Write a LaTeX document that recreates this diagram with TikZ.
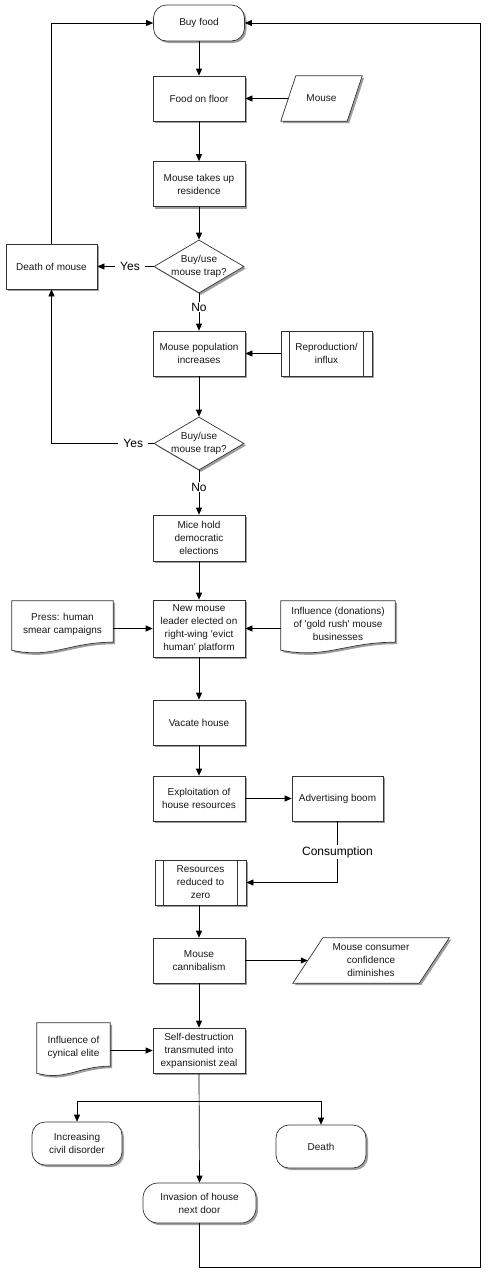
\documentclass[tikz,border=0pt]{standalone}
\usepackage{fontspec}
\setmainfont{Liberation Sans}[Ligatures=TeXOff]
\usetikzlibrary{shapes.geometric,arrows.meta,shadows,backgrounds}
\begin{document}
\begin{tikzpicture}[x=1pt,y=-1pt,
  shadowed/.style={drop shadow={shadow xshift=2pt,shadow yshift=-2pt,fill=black,opacity=0.38}},
  txt/.style={align=center,font=\fontsize{10}{13}\selectfont,text=black!90},
  base/.style={txt,draw=black!80,line width=0.7pt,fill=white,inner sep=1pt,shadowed},
  proc/.style={base,rectangle,minimum width=92pt,minimum height=45pt},
  term/.style={base,rectangle,rounded corners=13pt,minimum width=91pt,minimum height=36pt},
  dec/.style={base,diamond,minimum width=90pt,minimum height=53pt,inner sep=0pt},
  ghost/.style={txt,rectangle,inner sep=1pt},
  shapeline/.style={draw=black!80,line width=0.7pt,fill=white,shadowed},
  inner/.style={draw=black!80,line width=0.7pt},
  arr/.style={draw=black,line width=0.7pt,-{Triangle[length=7pt,width=6pt]}},
  lbl/.style={fill=white,font=\fontsize{12}{14}\selectfont,inner xsep=5pt,inner ysep=1pt,text=black}
]
\useasboundingbox (0,0) rectangle (489,1277);

% nodes
\node[term] (buy) at (199,23) {Buy food};
\node[proc] (food) at (199,98.5) {Food on floor};
\node[ghost,minimum width=81pt,minimum height=45pt] (mouse) at (321.5,98.5) {Mouse};
\node[proc] (resid) at (199,184) {Mouse takes up\\residence};
\node[dec,label={[txt]center:Buy/use\\mouse trap?}] (d1) at (199,266.5) {};
\node[proc,minimum width=91pt] (dm) at (51.5,266.5) {Death of mouse};
\node[proc] (pop) at (199,353.5) {Mouse population\\increases};
\node[proc,minimum width=91pt] (repro) at (326.5,353.5) {Reproduction/\\influx};
\node[dec,label={[txt]center:Buy/use\\mouse trap?}] (d2) at (199,443.5) {};
\node[proc,minimum height=46pt] (mice) at (199,538) {Mice hold\\democratic\\elections};
\node[proc,minimum height=57pt] (leader) at (199,628.5) {New mouse\\leader elected on\\right-wing 'evict\\human' platform};
\node[ghost,minimum width=101pt,minimum height=46pt] (press) at (62.5,624) {Press: human\\smear campaigns};
\node[ghost,minimum width=114pt,minimum height=46pt] (infl) at (338,624) {Influence (donations)\\of 'gold rush' mouse\\businesses};
\node[proc] (vac) at (199,722.5) {Vacate house};
\node[proc] (expl) at (199,798.5) {Exploitation of\\house resources};
\node[proc,minimum width=91pt] (adv) at (337.5,798.5) {Advertising boom};
\node[proc,minimum width=91pt] (zero) at (200.5,882.5) {Resources\\reduced to\\zero};
\node[proc] (cann) at (199,960.5) {Mouse\\cannibalism};
\node[ghost,minimum width=156pt,minimum height=45pt] (conf) at (371,960.5) {Mouse consumer\\confidence\\diminishes};
\node[proc] (self) at (199,1050.5) {Self-destruction\\transmuted into\\expansionist zeal};
\node[ghost,minimum width=73pt,minimum height=48pt] (elite) at (73.5,1047) {Influence of\\cynical elite};
\node[term,minimum width=90pt,minimum height=43pt] (civ) at (77,1143.5) {Increasing\\civil disorder};
\node[term,minimum width=90pt,minimum height=43pt] (dth) at (321,1146.5) {Death};
\node[term,minimum width=113pt,minimum height=40pt,rounded corners=15pt] (inv) at (199.5,1203) {Invasion of house\\next door};

% custom outlines behind their texts
\begin{scope}[on background layer]
\draw[shapeline] (mouse.south west) -- ([xshift=15pt]mouse.north west) -- (mouse.north east) -- ([xshift=-15pt]mouse.south east) -- cycle;
\draw[shapeline] (conf.south west) -- ([xshift=30pt]conf.north west) -- (conf.north east) -- ([xshift=-30pt]conf.south east) -- cycle;
\draw[shapeline] (press.north west) -- (press.north east) -- ([yshift=5pt]press.south east)
  .. controls ([xshift=-45pt,yshift=5pt]press.south east) and ([xshift=40pt,yshift=-12pt]press.south west) .. ([yshift=-3pt]press.south west) -- cycle;
\draw[shapeline] (infl.north west) -- (infl.north east) -- ([yshift=5pt]infl.south east)
  .. controls ([xshift=-50pt,yshift=5pt]infl.south east) and ([xshift=45pt,yshift=-12pt]infl.south west) .. ([yshift=-3pt]infl.south west) -- cycle;
\draw[shapeline] (elite.north west) -- (elite.north east) -- ([yshift=5pt]elite.south east)
  .. controls ([xshift=-32pt,yshift=5pt]elite.south east) and ([xshift=28pt,yshift=-10pt]elite.south west) .. ([yshift=-2pt]elite.south west) -- cycle;
\end{scope}

% predefined process inner lines
\draw[inner] ([xshift=9pt]repro.north west) -- ([xshift=9pt]repro.south west);
\draw[inner] ([xshift=-9pt]repro.north east) -- ([xshift=-9pt]repro.south east);
\draw[inner] ([xshift=9pt]zero.north west) -- ([xshift=9pt]zero.south west);
\draw[inner] ([xshift=-9pt]zero.north east) -- ([xshift=-9pt]zero.south east);

% connectors
\draw[arr] (buy) -- (food);
\draw[arr] ([xshift=7.5pt]mouse.west) -- (food.east);
\draw[arr] (food) -- (resid);
\draw[arr] (resid) -- (d1);
\draw[arr] (d1.west) -- node[lbl,pos=0.42]{Yes} (dm.east);
\draw[arr] (d1.south) -- node[lbl,pos=0.37]{No} (pop.north);
\draw[arr] (repro.west) -- (pop.east);
\draw[arr] (pop) -- (d2);
\draw[arr] (d2.west) -- node[lbl,pos=0.2]{Yes} (d2.west -| dm.south) -- (dm.south);
\draw[arr] (d2.south) -- node[lbl,pos=0.38]{No} (mice.north);
\draw[arr] (mice) -- (leader);
\draw[arr] (leader.west -| press.east) -- (leader.west);
\draw[arr] (leader.east -| infl.west) -- (leader.east);
\draw[arr] (leader) -- (vac);
\draw[arr] (vac) -- (expl);
\draw[arr] (expl) -- (adv);
\draw[arr] (adv.south) |- node[lbl,pos=0.25]{Consumption} (zero.east);
\draw[arr] (zero.south -| cann.north) -- (cann.north);
\draw[arr] (cann.east) -- ([xshift=15pt]conf.west);
\draw[arr] (cann) -- (self);
\draw[arr] (self.west -| elite.east) -- (self.west);
\coordinate (bj) at (199,1101);
\draw[arr] (self.south) -- (inv.north);
\draw[arr] (bj) -| (civ.north);
\draw[arr] (bj) -| (dth.north);
\draw[arr] (dm.north) |- (buy.west);
\coordinate (br) at (480,1267);
\draw[arr] (inv.south) |- (br) |- (buy.east);
\end{tikzpicture}
\end{document}
